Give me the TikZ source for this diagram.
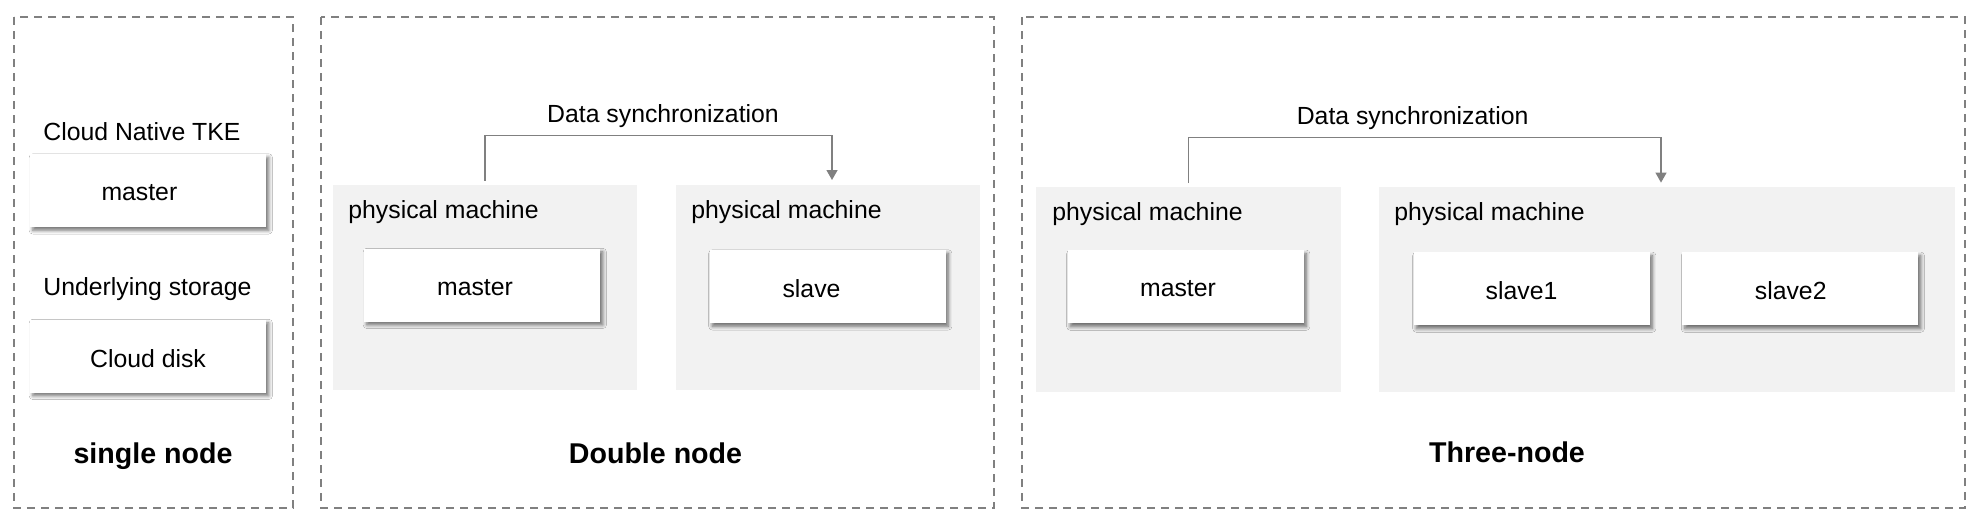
\documentclass[tikz,border=0pt]{standalone}
\usepackage{fontspec}
\setmainfont{Liberation Sans}
\usetikzlibrary{arrows.meta,shadows.blur}

\definecolor{boxgray}{HTML}{F2F2F2}
\definecolor{linegray}{HTML}{808080}

\tikzset{
    panel/.style={draw=linegray, line width=1pt, dash pattern=on 4pt off 3pt},
    machine/.style={fill=boxgray, inner sep=0pt, minimum height=102.4pt, minimum width=#1},
    role/.style={fill=white, inner sep=0pt, minimum width=118pt, minimum height=36.5pt,
        blur shadow={shadow xshift=1.4pt, shadow yshift=-1.7pt, shadow blur radius=1.8pt, shadow blur steps=6, shadow opacity=55}},
    roletext/.style 2 args={label={[lbl, xshift=#1, yshift=-1.1pt]center:#2}},
    lbl/.style={inner sep=0pt, font=\fontsize{12.4}{14}\selectfont},
    title/.style={inner sep=0pt, font=\fontsize{14.3}{16}\selectfont\bfseries},
    sync/.style={draw=linegray, line width=0.65pt, -{Triangle[width=5.5pt,length=5pt]}}
}

\begin{document}
\begin{tikzpicture}[x=0.5pt, y=-0.5pt]
        \fill[white] (0,0) rectangle (1984,530); %hintergrund

        % --------------------------------------------------

        \draw[panel] (14,17) rectangle (293,508); %single
        \node[lbl, anchor=west] (tkeLabel) at (43,131.5) {Cloud Native TKE};
        \node[role, roletext={-4.3pt}{master}] (master1) at (148,190.5) {};
        \node[lbl, anchor=west] (storageLabel) at (43,289.5) {Underlying storage};
        \node[role, roletext={0pt}{Cloud disk}] (disk1) at (148,356) {};
        \node[title] (single) at (153,455.8) {single node};

        % --------------------------------------------------

        \draw[panel] (321,17) rectangle (994,508); %double
        \node[machine=152pt] (pm2a) at (485,287.2) {};
        \node[machine=152.2pt] (pm2b) at (827.7,287.2) {};
        \node[lbl, anchor=west] (pm2aLabel) at (348,212) {physical machine};
        \node[lbl, anchor=west] (pm2bLabel) at (691,212) {physical machine};
        \node[role, roletext={-3.5pt}{master}] (master2) at (482,285) {};
        \node[role, roletext={-8pt}{slave}] (slave2) at (827.5,286.5) {};
        \node[lbl] (sync2) at (663,116) {Data synchronization};
        \coordinate (tip2) at (832,180);
        \draw[sync] ([yshift=1.75pt]pm2a.north) -- ++(0,-45.7) -| (tip2);
        \node[title] (double) at (655.5,453) {Double node};

        % --------------------------------------------------

        \draw[panel] (1022,17) rectangle (1965,508); %three
        \node[machine=152.5pt] (pm3a) at (1188.5,289.5) {};
        \node[machine=288pt] (pm3b) at (1667,289.5) {};
        \node[lbl, anchor=west] (pm3aLabel) at (1052,214.5) {physical machine};
        \node[lbl, anchor=west] (pm3bLabel) at (1394,214.5) {physical machine};
        \node[role, roletext={-3.75pt}{master}] (master3) at (1185.5,286.8) {};
        \node[role, roletext={-5pt}{slave1}] (slave31) at (1531.5,288.8) {};
        \node[role, roletext={-4.65pt}{slave2}] (slave32) at (1800,288.8) {};
        \node[lbl] (sync3) at (1412.6,118) {Data synchronization};
        \coordinate (tip3) at (1661,182.6);
        \draw[sync] ([yshift=1.8pt]pm3a.north) -- ++(0,-45.6) -| (tip3);
        \node[title] (three) at (1507,452.6) {Three-node};
\end{tikzpicture}
\end{document}
